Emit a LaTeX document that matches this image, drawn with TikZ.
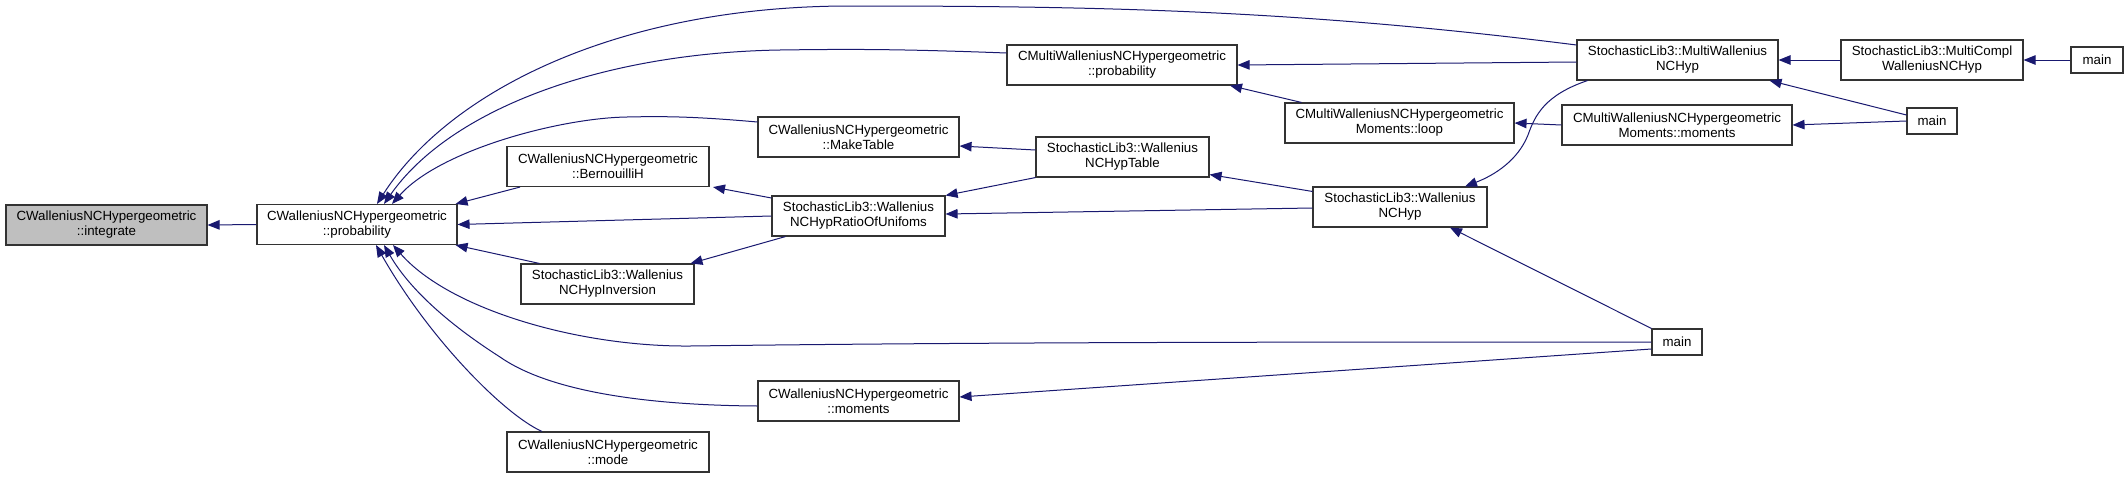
\documentclass[tikz,border=0pt]{standalone}
\usepackage{fontspec}
\setmainfont{Liberation Sans}
\usetikzlibrary{arrows.meta}
\definecolor{edgecol}{HTML}{191970}
\definecolor{grayfill}{HTML}{BFBFBF}
\begin{document}
\begin{tikzpicture}[x=1pt,y=-1pt,
 box/.style={draw=black!80, line width=1.1pt, fill=white, inner sep=0pt, align=center,
   font=\fontsize{13.3}{15}\selectfont, text=black, minimum height=40pt},
 mainbox/.style={box, minimum height=26pt},
 edge/.style={draw=edgecol, line width=1pt, -{Triangle[length=12pt,width=9.5pt]}},
]
\useasboundingbox[fill=white] (0,0) rectangle (2128,477);
% nodes
\node[box, minimum width=201pt, fill=grayfill] (integ) at (106.5,225) {CWalleniusNCHypergeometric\\::integrate};
\node[box, minimum width=200pt] (prob) at (357,224.5) {CWalleniusNCHypergeometric\\::probability};
\node[box, minimum width=202pt] (bern) at (608,166.5) {CWalleniusNCHypergeometric\\::BernouilliH};
\node[box, minimum width=173pt] (inv) at (607.5,284) {StochasticLib3::Wallenius\\NCHypInversion};
\node[box, minimum width=202pt] (mode) at (608,452) {CWalleniusNCHypergeometric\\::mode};
\node[box, minimum width=201pt] (mt) at (858.5,137) {CWalleniusNCHypergeometric\\::MakeTable};
\node[box, minimum width=173pt] (ratio) at (858.5,216) {StochasticLib3::Wallenius\\NCHypRatioOfUnifoms};
\node[box, minimum width=201pt] (mom) at (858.5,401) {CWalleniusNCHypergeometric\\::moments};
\node[box, minimum width=230pt] (cmprob) at (1122,65) {CMultiWalleniusNCHypergeometric\\::probability};
\node[box, minimum width=173pt] (wt) at (1122.5,157) {StochasticLib3::Wallenius\\NCHypTable};
\node[box, minimum width=229pt] (loop) at (1399.5,123) {CMultiWalleniusNCHypergeometric\\Moments::loop};
\node[box, minimum width=174pt] (wn) at (1400,207) {StochasticLib3::Wallenius\\NCHyp};
\node[box, minimum width=201pt] (mw) at (1677.5,60) {StochasticLib3::MultiWallenius\\NCHyp};
\node[box, minimum width=230pt] (cmm) at (1677,125) {CMultiWalleniusNCHypergeometric\\Moments::moments};
\node[mainbox, minimum width=50pt] (mainB) at (1677,342) {main};
\node[box, minimum width=182pt] (mc) at (1932,60) {StochasticLib3::MultiCompl\\WalleniusNCHyp};
\node[mainbox, minimum width=50pt] (mainM) at (1932,121) {main};
\node[mainbox, minimum width=52pt] (mainT) at (2097,60) {main};
% edges
\draw[edge] (prob.west) -- (integ.east);
\draw[edge] ([yshift=15pt]mw.west) .. controls (1300,10) and (1100,6) .. (850,6)
  .. controls (620,6) and (450,90) .. ([xshift=20pt]prob.north);
\draw[edge] ([yshift=12pt]cmprob.west) .. controls (900,49) and (850,49) .. (780,50)
  .. controls (600,53) and (450,110) .. ([xshift=27pt]prob.north);
\draw[edge] ([yshift=15pt]mt.west) .. controls (700,117) and (670,116) .. (627,117)
  .. controls (560,118) and (440,150) .. ([xshift=35pt]prob.north);
\draw[edge] ([xshift=-88pt]bern.south) -- ([xshift=-2pt]prob.north east);
\draw[edge] (ratio.west) -- (prob.east);
\draw[edge] ([xshift=-68pt]inv.north) -- ([xshift=-2pt]prob.south east);
\draw[edge] (mainB.west) .. controls (1300,342) and (1000,342) .. (690,346)
  .. controls (580,347) and (450,310) .. ([xshift=36pt]prob.south);
\draw[edge] ([yshift=-5pt]mom.west) .. controls (620,405) and (540,385) .. (500,357)
  .. controls (450,325) and (410,290) .. ([xshift=27pt]prob.south);
\draw[edge] ([xshift=-66pt]mode.north) .. controls (505,415) and (430,340) .. ([xshift=19pt]prob.south);
\draw[edge] ([yshift=-1pt]wn.west) -- ([yshift=2pt]ratio.east);
\draw[edge] (wt.south west) -- (ratio.north east);
\draw[edge] ([yshift=7pt]wt.west) -- ([yshift=-9pt]mt.east);
\draw[edge] ([xshift=-73pt]ratio.south) -- ([xshift=83pt]inv.north);
\draw[edge] ([yshift=18pt]ratio.west) -- ([xshift=105pt]bern.south);
\draw[edge] ([yshift=-5pt]wn.north west) -- ([yshift=3pt]wt.south east);
\draw[edge] (mainB.north west) -- ([xshift=50pt]wn.south);
\draw[edge] ([yshift=-7pt]mainB.west) -- ([yshift=4pt]mom.east);
\draw[edge] ([xshift=-98pt]loop.north) -- ([xshift=108pt]cmprob.south);
\draw[edge] ([yshift=-2pt]mw.west) -- (cmprob.east);
\draw[edge] ([xshift=-90pt]mw.south) .. controls (1545,95) and (1535,115) .. (1528,135)
  .. controls (1518,160) and (1495,175) .. ([xshift=65pt]wn.north);
\draw[edge] (cmm.west) -- (loop.east);
\draw[edge] ([yshift=6pt]mainM.west) -- ([xshift=92pt]mw.south);
\draw[edge] (mainM.west) -- (cmm.east);
\draw[edge] (mc.west) -- (mw.east);
\draw[edge] (mainT.west) -- (mc.east);
\end{tikzpicture}
\end{document}
